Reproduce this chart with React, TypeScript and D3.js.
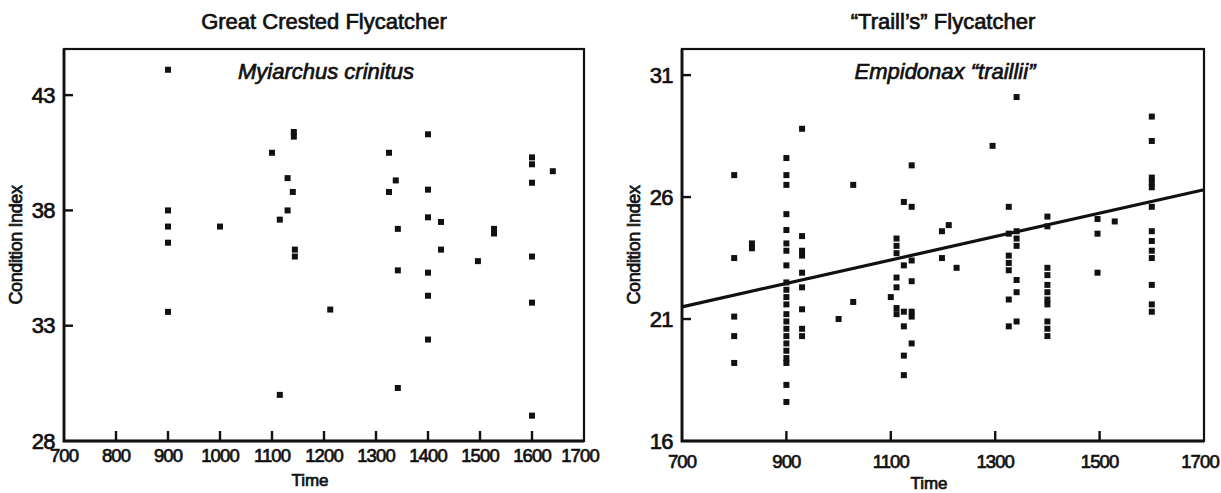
import * as d3 from "d3";
import { useEffect, useRef } from "react";

// Great Crested Flycatcher (left panel): [time, condition index]
const gcfPoints = [
	[900, 44.1], [900, 38.0], [900, 37.3], [900, 36.6], [900, 33.6],
	[1000, 37.3],
	[1100, 40.5], [1115, 37.6], [1115, 30.0], [1130, 39.4], [1130, 38.0],
	[1140, 38.8], [1142, 41.2], [1142, 41.4], [1144, 36.0], [1144, 36.3],
	[1212, 33.7],
	[1325, 40.5], [1325, 38.8], [1338, 39.3], [1342, 37.2], [1342, 35.4], [1342, 30.3],
	[1400, 41.3], [1400, 38.9], [1400, 37.7], [1400, 35.3], [1400, 34.3], [1400, 32.4],
	[1425, 37.5], [1425, 36.3], [1496, 35.8], [1527, 37.0], [1527, 37.2],
	[1600, 40.3], [1600, 40.0], [1600, 39.2], [1600, 36.0], [1600, 34.0], [1600, 29.1],
	[1640, 39.7],
];

// "Traill's" Flycatcher (right panel)
const tfPoints = [
	[800, 26.9], [800, 23.5], [800, 21.1], [800, 20.3], [800, 19.2],
	[834, 24.1], [834, 23.9],
	[900, 27.6], [900, 26.9], [900, 26.5], [900, 25.3], [900, 24.65], [900, 24.1], [900, 23.8], [900, 23.2],
	[900, 22.5], [900, 22.2], [900, 21.9], [900, 21.6], [900, 21.2], [900, 20.9],
	[900, 20.6], [900, 20.3], [900, 20.0], [900, 19.7], [900, 19.4], [900, 19.2],
	[900, 18.3], [900, 17.6],
	[930, 28.8], [930, 24.4], [930, 23.8], [930, 23.6], [930, 22.9], [930, 22.3], [930, 21.4], [930, 20.6], [930, 20.3],
	[1000, 21.0], [1028, 26.5], [1028, 21.7],
	[1100, 21.9],
	[1111, 24.3], [1111, 24.0], [1111, 23.7], [1111, 22.7], [1111, 22.3], [1111, 21.45], [1111, 21.2],
	[1125, 25.8], [1125, 23.2], [1125, 21.3], [1125, 20.7], [1125, 19.5], [1125, 18.7],
	[1140, 27.3], [1140, 25.6], [1140, 23.4], [1140, 22.55], [1140, 21.3], [1140, 21.1], [1140, 20.0],
	[1198, 24.6], [1198, 23.5], [1211, 24.85], [1226, 23.1],
	[1295, 28.1],
	[1326, 25.6], [1326, 24.5], [1326, 23.6], [1326, 23.3], [1326, 23.0], [1326, 21.8], [1326, 20.7],
	[1341, 30.1], [1341, 24.6], [1341, 24.3], [1341, 24.0], [1341, 22.6], [1341, 22.1], [1341, 20.9],
	[1400, 25.2], [1400, 24.8], [1400, 23.1], [1400, 22.8], [1400, 22.4], [1400, 22.1],
	[1400, 21.8], [1400, 21.6], [1400, 20.9], [1400, 20.6], [1400, 20.3],
	[1496, 25.1], [1496, 24.5], [1496, 22.9], [1529, 25.0],
	[1600, 29.3], [1600, 28.3], [1600, 26.8], [1600, 26.6], [1600, 26.4], [1600, 25.6],
	[1600, 24.6], [1600, 24.2], [1600, 23.8], [1600, 23.5], [1600, 22.4], [1600, 21.6], [1600, 21.3],
];

// fitted line for the right panel, end points
const tfTrend = [[700, 21.5], [1700, 26.3]];

const gcfXTicks = [700, 800, 900, 1000, 1100, 1200, 1300, 1400, 1500, 1600, 1700];
const gcfYTicks = [28, 33, 38, 43];
const tfXTicks = [700, 900, 1100, 1300, 1500, 1700];
const tfYTicks = [16, 21, 26, 31];

const FONT = "'Liberation Sans', Arial, Helvetica, sans-serif";
const INK = "#111";

function drawPanel(svg, p) {
	const x = d3.scaleLinear().domain([700, 1700]).range([p.left, p.right]);
	const y = d3.scaleLinear().domain(p.yDomain).range([441, 49]);
	const g = svg.append("g");

	// frame
	g.append("rect")
		.attr("x", p.left)
		.attr("y", 49)
		.attr("width", p.right - p.left)
		.attr("height", 441 - 49)
		.attr("fill", "none")
		.attr("stroke", INK)
		.attr("stroke-width", 2.2);
	g.append("path")
		.attr("d", `M${p.left},49V441H${p.right}`)
		.attr("fill", "none")
		.attr("stroke", INK)
		.attr("stroke-width", 2.8);

	// inward ticks
	g.selectAll(".xt")
		.data(p.xTicks.slice(1, -1))
		.enter()
		.append("line")
		.attr("x1", (d) => x(d))
		.attr("x2", (d) => x(d))
		.attr("y1", 441)
		.attr("y2", 431)
		.attr("stroke", INK)
		.attr("stroke-width", 2.4);
	g.selectAll(".yt")
		.data(p.yTicks.slice(1))
		.enter()
		.append("line")
		.attr("x1", p.left)
		.attr("x2", p.left + 9)
		.attr("y1", (d) => y(d))
		.attr("y2", (d) => y(d))
		.attr("stroke", INK)
		.attr("stroke-width", 2.4);

	const text = (sel) =>
		sel.attr("font-family", FONT).attr("fill", INK).attr("stroke", INK).attr("stroke-width", 0.7);

	const last = p.xTicks[p.xTicks.length - 1];
	g.selectAll(".xl")
		.data(p.xTicks)
		.enter()
		.append("text")
		.call(text)
		.attr("x", (d) => x(d) - (d === last ? 4 : 0))
		.attr("y", p.xLabelY)
		.attr("text-anchor", "middle")
		.attr("font-size", 18.5)
		.attr("letter-spacing", -0.9)
		.text((d) => d);
	g.selectAll(".yl")
		.data(p.yTicks)
		.enter()
		.append("text")
		.call(text)
		.attr("x", p.left - 9)
		.attr("y", (d) => y(d) + 7.5)
		.attr("text-anchor", "end")
		.attr("font-size", 22)
		.attr("letter-spacing", -0.6)
		.text((d) => d);

	const cx = (p.left + p.right) / 2;
	g.append("text")
		.call(text)
		.attr("x", cx)
		.attr("y", 29)
		.attr("text-anchor", "middle")
		.attr("font-size", 22)
		.text(p.title);
	g.append("text")
		.call(text)
		.attr("x", cx + 2)
		.attr("y", 79)
		.attr("text-anchor", "middle")
		.attr("font-size", 22)
		.attr("font-style", "italic")
		.text(p.subtitle);
	g.append("text")
		.call(text)
		.attr("x", cx - 14)
		.attr("y", p.timeY)
		.attr("text-anchor", "middle")
		.attr("font-size", 17)
		.text("Time");
	g.append("text")
		.call(text)
		.attr("transform", `translate(${p.left - 42},245) rotate(-90)`)
		.attr("text-anchor", "middle")
		.attr("font-size", 18)
		.attr("letter-spacing", -0.4)
		.text("Condition Index");

	if (p.trend) {
		g.append("path")
			.datum(p.trend)
			.attr("d", d3.line().x((d) => x(d[0])).y((d) => y(d[1])))
			.attr("fill", "none")
			.attr("stroke", INK)
			.attr("stroke-width", 3.2);
	}

	const s = 6;
	g.selectAll(".pt")
		.data(p.points)
		.enter()
		.append("rect")
		.attr("x", (d) => x(d[0]) - s / 2)
		.attr("y", (d) => y(d[1]) - s / 2)
		.attr("width", s)
		.attr("height", s)
		.attr("fill", INK);
}

export default function App() {
	const ref = useRef(null);

	useEffect(() => {
		const svg = d3.select(ref.current);
		svg.selectAll("*").remove();
		drawPanel(svg, {
			left: 64,
			right: 584,
			yDomain: [28, 45],
			xTicks: gcfXTicks,
			yTicks: gcfYTicks,
			xLabelY: 462,
			timeY: 486,
			title: "Great Crested Flycatcher",
			subtitle: "Myiarchus crinitus",
			points: gcfPoints,
		});
		drawPanel(svg, {
			left: 682,
			right: 1204,
			yDomain: [16, 32.07],
			xTicks: tfXTicks,
			yTicks: tfYTicks,
			xLabelY: 468,
			timeY: 489,
			title: "\u201CTraill\u2019s\u201D  Flycatcher",
			subtitle: "Empidonax \u201Ctraillii\u201D",
			points: tfPoints,
			trend: tfTrend,
		});
	}, []);

	return (
		<svg
			ref={ref}
			width={1221}
			height={493}
			style={{ position: "absolute", left: 0, top: 0, background: "#fff" }}
		/>
	);
}
